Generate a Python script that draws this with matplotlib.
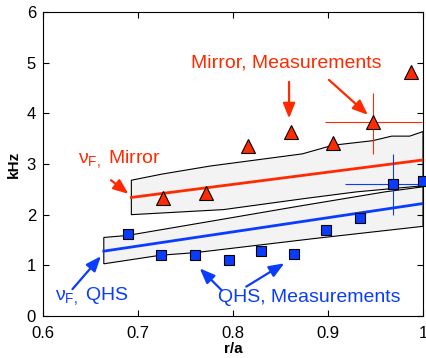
import numpy as np
import matplotlib
matplotlib.use("Agg")
import matplotlib.pyplot as plt

plt.rcParams['font.family'] = ['Liberation Sans', 'DejaVu Sans']
plt.rcParams['mathtext.fontset'] = 'custom'
plt.rcParams['mathtext.rm'] = 'Liberation Sans'
plt.rcParams['mathtext.it'] = 'Liberation Sans'

RED = '#ff2a00'
BLUE = '#0a3cff'

# measurements
mir_x = [0.726, 0.772, 0.816, 0.861, 0.905, 0.947, 0.987]
mir_y = [2.32, 2.42, 3.35, 3.63, 3.41, 3.83, 4.82]
qhs_x = [0.689, 0.724, 0.760, 0.796, 0.829, 0.864, 0.898, 0.934, 0.968, 1.0]
qhs_y = [1.61, 1.21, 1.21, 1.10, 1.28, 1.23, 1.69, 1.93, 2.60, 2.66]

# error bars on one point each
mir_err_x, mir_err_y = 0.947, 3.83
mir_xerr = [[0.050], [0.052]]
mir_yerr = [[0.63], [0.57]]
qhs_err_x, qhs_err_y = 0.968, 2.60
qhs_xerr = [[0.050], [0.032]]
qhs_yerr = [[0.61], [0.60]]

# model lines nu_F
mir_line_x = [0.693, 1.0]
mir_line_y = [2.34, 3.08]
qhs_line_x = [0.664, 1.0]
qhs_line_y = [1.28, 2.22]

# uncertainty bands
mir_up_x = [0.693, 0.725, 0.776, 0.873, 0.905, 0.947, 0.967, 0.986, 1.0]
mir_up_y = [2.68, 2.80, 2.96, 3.20, 3.37, 3.46, 3.55, 3.55, 3.64]
mir_lo_x = [0.693, 0.79, 0.876, 0.93, 1.0]
mir_lo_y = [2.00, 2.10, 2.32, 2.45, 2.57]
qhs_up_x = [0.664, 0.689, 0.786, 0.87, 0.96, 1.0]
qhs_up_y = [1.55, 1.59, 1.90, 2.17, 2.45, 2.55]
qhs_lo_x = [0.664, 0.724, 0.760, 0.886, 1.0]
qhs_lo_y = [1.03, 1.20, 1.25, 1.53, 1.77]

fig = plt.figure(figsize=(4.27, 3.58), dpi=100)
ax = fig.add_axes([43/427, 1-316/358, 380/427, 304/358])

for ux, uy, lx, ly in [(mir_up_x, mir_up_y, mir_lo_x, mir_lo_y),
                       (qhs_up_x, qhs_up_y, qhs_lo_x, qhs_lo_y)]:
    px = list(ux) + list(lx[::-1])
    py = list(uy) + list(ly[::-1])
    ax.fill(px, py, facecolor='#f3f3f3', edgecolor='black', lw=0.8, zorder=1)

ax.plot(mir_line_x, mir_line_y, color=RED, lw=2, zorder=2)
ax.plot(qhs_line_x, qhs_line_y, color=BLUE, lw=2, zorder=2)

ax.errorbar([mir_err_x], [mir_err_y], xerr=mir_xerr, yerr=mir_yerr,
            fmt='none', ecolor=RED, elinewidth=0.8, capsize=0, zorder=2)
ax.errorbar([qhs_err_x], [qhs_err_y], xerr=qhs_xerr, yerr=qhs_yerr,
            fmt='none', ecolor=BLUE, elinewidth=0.8, capsize=0, zorder=2)

ax.plot(mir_x, mir_y, '^', ms=10, mfc=RED, mec='black', mew=0.8, ls='none',
        zorder=3, clip_on=False)
ax.plot(qhs_x, qhs_y, 's', ms=7.5, mfc=BLUE, mec='black', mew=0.8, ls='none',
        zorder=3, clip_on=False)

# labels and arrows
ax.text(0.856, 4.99, 'Mirror, Measurements', color=RED, fontsize=14,
        ha='center', va='center')
ax.text(0.88, 0.36, 'QHS, Measurements', color=BLUE, fontsize=14,
        ha='center', va='center')
ax.text(0.637, 3.1, r'$\mathregular{\nu_{F,}}$ Mirror', color=RED, fontsize=14,
        ha='left', va='center')
ax.text(0.613, 0.4, r'$\mathregular{\nu_{F,}}$ QHS', color=BLUE, fontsize=14,
        ha='left', va='center')

arr = dict(arrowstyle='-|>,head_length=0.7,head_width=0.28', lw=1.6,
           mutation_scale=13, shrinkA=0, shrinkB=0)
red_arrows = [((0.6716, 2.68), (0.690, 2.41)),
              ((0.859, 4.62), (0.859, 3.90)),
              ((0.901, 4.66), (0.942, 3.97))]
blue_arrows = [((0.631, 0.53), (0.661, 1.18)),
               ((0.788, 0.51), (0.765, 0.94)),
               ((0.814, 0.58), (0.854, 1.04))]
for (s, e) in red_arrows:
    ax.annotate('', xy=e, xytext=s, arrowprops=dict(arr, color=RED))
for (s, e) in blue_arrows:
    ax.annotate('', xy=e, xytext=s, arrowprops=dict(arr, color=BLUE))

ax.set_xlim(0.6, 1.0)
ax.set_ylim(0, 6)
ax.set_xticks([0.6, 0.7, 0.8, 0.9, 1.0])
ax.set_xticklabels(['0.6', '0.7', '0.8', '0.9', '1'])
ax.set_yticks(range(7))
ax.tick_params(direction='in', top=True, right=True, labelsize=12, length=4)
ax.tick_params(axis='y', pad=5)
ax.tick_params(axis='x', pad=7)
ax.set_xlabel('r/a', fontsize=11, fontweight='bold', labelpad=1)
ax.set_ylabel('kHz', fontsize=11, fontweight='bold', labelpad=4)

fig.savefig('out.png', dpi=100)
